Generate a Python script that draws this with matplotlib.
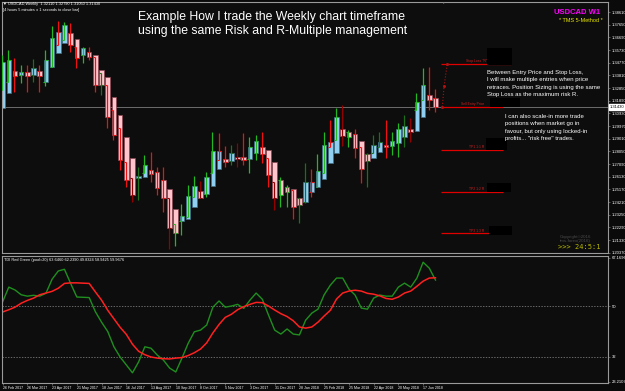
"""USDCAD weekly chart (MT4 style) with TDI sub-window."""
import matplotlib.pyplot as plt
import numpy as np
from matplotlib.patches import Rectangle

plt.rcParams['font.family'] = ['Liberation Sans', 'DejaVu Sans']

# weekly candles, first week 26 Feb 2017
opens = [1.3136, 1.3249, 1.3415, 1.3385, 1.3408, 1.3385, 1.3415, 1.3332, 1.3445, 1.3551,
         1.3627, 1.3703, 1.3657, 1.3536, 1.3559, 1.3536, 1.3423, 1.3370, 1.3219, 1.3083,
         1.2916, 1.2758, 1.2606, 1.2614, 1.2667, 1.2652, 1.2591, 1.2523, 1.2372, 1.2274,
         1.2296, 1.2380, 1.2508, 1.2485, 1.2546, 1.2674, 1.2750, 1.2735, 1.2765, 1.2765,
         1.2750, 1.2795, 1.2841, 1.2818, 1.2727, 1.2591, 1.2538, 1.2523, 1.2455, 1.2425,
         1.2500, 1.2538, 1.2599, 1.2720, 1.2795, 1.2977, 1.2954, 1.2939, 1.2886, 1.2788,
         1.2758, 1.2803, 1.2856, 1.2848, 1.2871, 1.2916, 1.2977, 1.2962, 1.3067, 1.3234,
         1.3211]
closes = [1.3483, 1.3498, 1.3377, 1.3408, 1.3377, 1.3438, 1.3377, 1.3498, 1.3665, 1.3710,
          1.3763, 1.3612, 1.3514, 1.3589, 1.3521, 1.3309, 1.3309, 1.3067, 1.2931, 1.2742,
          1.2591, 1.2478, 1.2621, 1.2705, 1.2637, 1.2531, 1.2448, 1.2221, 1.2190, 1.2319,
          1.2470, 1.2546, 1.2455, 1.2614, 1.2810, 1.2810, 1.2727, 1.2795, 1.2750, 1.2742,
          1.2841, 1.2886, 1.2788, 1.2629, 1.2455, 1.2478, 1.2500, 1.2380, 1.2402, 1.2576,
          1.2576, 1.2659, 1.2856, 1.2878, 1.3067, 1.2924, 1.2916, 1.2833, 1.2674, 1.2735,
          1.2856, 1.2878, 1.2841, 1.2886, 1.2977, 1.2999, 1.2954, 1.3181, 1.3309, 1.3196,
          1.3143]
highs = [1.3536, 1.3574, 1.3514, 1.3461, 1.3461, 1.3506, 1.3461, 1.3574, 1.3755, 1.3793,
         1.3786, 1.3778, 1.3597, 1.3597, 1.3597, 1.3521, 1.3400, 1.3309, 1.3120, 1.2984,
         1.2727, 1.2606, 1.2689, 1.2780, 1.2803, 1.2689, 1.2689, 1.2455, 1.2251, 1.2410,
         1.2553, 1.2621, 1.2584, 1.2652, 1.2954, 1.2947, 1.2848, 1.2856, 1.2871, 1.2947,
         1.2916, 1.2931, 1.2954, 1.2758, 1.2576, 1.2614, 1.2553, 1.2516, 1.2455, 1.2720,
         1.2674, 1.2788, 1.2954, 1.3045, 1.3136, 1.3158, 1.2969, 1.2977, 1.2841, 1.2795,
         1.2931, 1.2954, 1.3045, 1.2954, 1.3022, 1.3083, 1.3060, 1.3249, 1.3438, 1.3445,
         1.3279]
lows = [1.3272, 1.3332, 1.3256, 1.3325, 1.3256, 1.3332, 1.3256, 1.3302, 1.3445, 1.3612,
        1.3650, 1.3559, 1.3438, 1.3476, 1.3498, 1.3256, 1.3234, 1.2984, 1.2894, 1.2667,
        1.2538, 1.2425, 1.2440, 1.2644, 1.2576, 1.2478, 1.2349, 1.2062, 1.2085, 1.2175,
        1.2311, 1.2463, 1.2448, 1.2463, 1.2644, 1.2742, 1.2689, 1.2705, 1.2689, 1.2705,
        1.2644, 1.2742, 1.2720, 1.2538, 1.2364, 1.2387, 1.2387, 1.2289, 1.2259, 1.2417,
        1.2463, 1.2538, 1.2644, 1.2841, 1.2894, 1.2848, 1.2841, 1.2758, 1.2568, 1.2538,
        1.2795, 1.2841, 1.2758, 1.2780, 1.2765, 1.2841, 1.2878, 1.3120, 1.3196, 1.3120,
        1.3105]
bar_kind = ['g', 'g', 'r', 'g', 'r', 'dg', 'r', 'g', 'g', 'r',
            'g', 'r', 'r', 'g', 'r', 'r', 'dg', 'r', 'r', 'r',
            'r', 'dr', 'dg', 'g', 'r', 'r', 'r', 'dr', 'g', 'g',
            'g', 'g', 'dr', 'g', 'g', 'r', 'r', 'dg', 'dr', 'r',
            'g', 'g', 'r', 'r', 'dr', 'g', 'g', 'r', 'dg', 'dg',
            'r', 'g', 'g', 'r', 'g', 'dr', 'g', 'r', 'r', 'dg',
            'dg', 'dg', 'r', 'g', 'g', 'dg', 'dr', 'g', 'g', 'r',
            'r']

# TDI lines
rsi_green = [51.5, 56.7, 55.7, 54.0, 53.5, 53.8, 53.5, 54.5, 59.5, 62.4,
             63.0, 58.0, 53.2, 53.1, 53.0, 48.0, 44.3, 41.0, 35.6, 32.0,
             29.2, 26.4, 30.3, 35.6, 35.1, 32.7, 30.9, 28.1, 26.7, 31.6,
             36.8, 40.9, 41.5, 43.3, 49.6, 51.8, 49.6, 50.0, 50.6, 49.2,
             52.1, 54.6, 52.4, 46.8, 41.5, 40.1, 41.9, 40.1, 39.8, 45.0,
             47.5, 48.9, 54.0, 57.4, 59.9, 59.9, 56.0, 53.9, 49.3, 48.9,
             52.8, 53.9, 53.5, 53.5, 56.7, 58.1, 56.7, 59.9, 65.5, 63.4,
             59.2]
signal_red = [47.9, 48.7, 49.6, 51.0, 52.0, 52.8, 54.0, 54.6, 55.2, 56.3,
              58.0, 58.2, 58.2, 58.1, 58.0, 55.0, 52.1, 48.5, 45.5, 42.5,
              40.0, 36.5, 34.0, 32.8, 32.0, 31.6, 31.4, 31.3, 31.6, 31.8,
              32.5, 33.5, 34.8, 37.0, 40.5, 43.5, 46.0, 47.1, 48.7, 49.8,
              50.6, 51.3, 51.2, 50.0, 48.6, 47.3, 46.3, 44.8, 42.6, 42.2,
              42.6, 44.3, 46.5, 48.5, 52.5, 54.6, 55.3, 55.6, 55.3, 54.5,
              54.2, 53.6, 52.7, 52.4, 53.2, 54.6, 55.3, 57.0, 58.8, 59.9,
              60.0]

date_labels = ['26 Feb 2017', '26 Mar 2017', '23 Apr 2017', '21 May 2017', '18 Jun 2017',
               '16 Jul 2017', '13 Aug 2017', '10 Sep 2017', '8 Oct 2017', '5 Nov 2017',
               '3 Dec 2017', '31 Dec 2017', '28 Jan 2018', '25 Feb 2018', '25 Mar 2018',
               '22 Apr 2018', '20 May 2018', '17 Jun 2018']
price_ticks = [1.38610, 1.37650, 1.36690, 1.35730, 1.34770, 1.33810, 1.32850, 1.31890,
               1.30930, 1.29970, 1.29010, 1.28050, 1.27090, 1.26130, 1.25170, 1.24210,
               1.23250, 1.22290, 1.21330, 1.20370]
tdi_ticks = [23.2107, 32, 50, 67.1696]
tdi_tick_labels = ['23.2107', '32', '50', '67.1696']

# trade plan levels drawn right of the last bar
level_labels = ['Stop Loss "R"', 'Sell Entry Price', 'TP1 1:1 R', 'TP2 1:2 R', 'TP3 1:3 R']
level_prices = [1.3468, 1.3143, 1.2818, 1.2500, 1.2183]

W, H = 625, 391
o = np.array(opens)
c = np.array(closes)
hi = np.array(highs)
lo = np.array(lows)
x = np.arange(len(o))

fig = plt.figure(figsize=(W / 100, H / 100), dpi=100, facecolor='#0a0a0a')
ax = fig.add_axes([2 / W, 1 - 253 / H, 606 / W, 251 / H])
ind = fig.add_axes([2 / W, 1 - 383 / H, 606 / W, 127 / H])
for a in (ax, ind):
    a.set_facecolor('#0d0d0d')
    for s in a.spines.values():
        s.set_color('#9a9a9a')
        s.set_linewidth(0.8)
    a.set_xlim(-0.1, 97.9)
    a.yaxis.tick_right()
    a.tick_params(axis='y', labelsize=3, labelcolor='white', color='#9a9a9a',
                  length=1.5, width=0.4, pad=1)

# candle bodies
up = c >= o
ax.bar(x, np.maximum(np.abs(c - o), 0.0004), bottom=np.minimum(o, c), width=0.74,
       color=np.where(up, '#8fd0f2', '#ffc4cc'),
       edgecolor=np.where(up, '#3f6f85', '#8a4550'), linewidth=0.5, zorder=2)

# bars over the bodies
cmap = {'g': '#22b822', 'dg': '#1c701c', 'r': '#f01010', 'dr': '#940000'}
cols = [cmap[k] for k in bar_kind]
bx = x - 0.08
ax.vlines(bx, lo, hi, colors=cols, lw=0.9, zorder=3)
ax.hlines(np.clip(o, lo, hi), bx - 0.32, bx, colors=cols, lw=0.8, zorder=3)
ax.hlines(np.clip(c, lo, hi), bx, bx + 0.36, colors=cols, lw=0.8, zorder=3)

# bid line and price box
ax.axhline(c[-1], color='#7c7c7c', lw=0.6, zorder=1)
ax.text(1.003, c[-1], f'{c[-1]:.5f}', transform=ax.get_yaxis_transform(), fontsize=3,
        color='black', va='center', ha='left', clip_on=False,
        bbox=dict(boxstyle='square,pad=0.25', fc='white', ec='white'))

ax.set_ylim(1.2035, 1.3937)
ax.set_yticks(price_ticks)
ax.set_yticklabels([f'{p:.5f}' for p in price_ticks])
ax.set_xticks([])

# trade levels
ends = [82.2, 80.9, 80.9, 80.9, 80.9]
ax.hlines(level_prices, 70.9, ends, colors='#e00000', lw=0.9, zorder=3)
for lab, p, lx in zip(level_labels, level_prices, [75.0, 74.2, 75.4, 75.4, 75.4]):
    ax.text(lx, p + 0.0004, lab, fontsize=2.4, color='#d02020', va='bottom', ha='left')
ax.plot([71.1, 71.4, 71.9], [level_prices[1], 1.3302, level_prices[0]], ls=':',
        color='#b01010', lw=0.8, marker='o', ms=1.2, zorder=3)

# blank label boxes
for x0, y0, x1, y1 in [(487, 48, 512, 65), (490, 98, 520, 107), (486, 138, 507, 150),
                       (487, 183, 511, 192), (489, 226, 512, 235)]:
    fig.add_artist(Rectangle((x0 / W, 1 - y1 / H), (x1 - x0) / W, (y1 - y0) / H,
                             transform=fig.transFigure, fc='black', ec='none'))

narrow = ['Liberation Sans Narrow', 'Liberation Sans', 'DejaVu Sans']
fig.text(487 / W, 1 - 70 / H,
         'Between Entry Price and Stop Loss,\nI will make multiple entries when price\n'
         'retraces. Position Sizing is using the same\nStop Loss as the maximum risk R.',
         fontsize=4.3, color='white', va='top', family=narrow, linespacing=1.6)
fig.text(505 / W, 1 - 114 / H,
         'I can also scale-in more trade\npositions when market go in\n'
         'favour, but only using locked-in\nprofits... "risk free" trades.',
         fontsize=4.3, color='white', va='top', family=narrow, linespacing=1.6)

fig.text(138 / W, 1 - 17 / H, 'Example How I trade the Weekly chart timeframe',
         fontsize=8.8, color='white', va='center')
fig.text(138 / W, 1 - 31 / H, 'using the same Risk and R-Multiple management',
         fontsize=8.8, color='white', va='center')
fig.text(600 / W, 1 - 12 / H, 'USDCAD W1', fontsize=5.5, fontweight='bold',
         color='#ff00ff', ha='right', va='center')
fig.text(603 / W, 1 - 20 / H, '* TMS 5-Method *', fontsize=4, color='#e8e800',
         ha='right', va='center')
fig.text(3 / W, 1 - 4 / H,
         f'\u25bc USDCAD,Weekly  {o[-1]:.5f} {hi[-1]:.5f} {lo[-1]:.5f} {c[-1]:.5f}',
         fontsize=2.8, color='white', va='center')
fig.text(3 / W, 1 - 9.5 / H, '[4 hours 5 minutes \u00b1 1 seconds to close bar]',
         fontsize=2.8, color='white', va='center')
fig.text(443 / W, 1 - 3 / H, '\u25bc', fontsize=2.5, color='#888888', ha='center', va='center')
fig.text(560 / W, 1 - 239 / H, 'Copyright\u00a92016\ntms-forex(2016)', fontsize=3.2,
         color='#4a4a4a', va='center', linespacing=1.0)
fig.text(600 / W, 1 - 247 / H, '>>> 24:5:1', fontsize=5, color='#b8b800', ha='right',
         va='center', family='DejaVu Sans Mono')

# TDI window
ind.axhline(50, color='#8c8c8c', lw=0.5, ls=(0, (2, 2)))
ind.axhline(32, color='#8c8c8c', lw=0.5, ls=(0, (2, 2)))
ind.plot(x, rsi_green, color='#1f8f1f', lw=1.0)
ind.plot(x, signal_red, color='#ff2020', lw=1.1)
ind.set_ylim(22.8, 67.7)
ind.set_yticks(tdi_ticks)
ind.set_yticklabels(tdi_tick_labels)
ind.set_xticks(x[::4][:len(date_labels)])
ind.set_xticklabels(date_labels, ha='left')
ind.tick_params(axis='x', labelsize=2.6, labelcolor='white', color='#9a9a9a',
                length=1.5, width=0.4, pad=1)
ind.text(0.003, 0.985, 'TDI Red Green (pool=20) 63.6460 62.2390 49.8324 58.9425 59.9676',
         transform=ind.transAxes, fontsize=2.8, color='white', va='top')

fig.savefig('out.png', dpi=100, facecolor=fig.get_facecolor())
